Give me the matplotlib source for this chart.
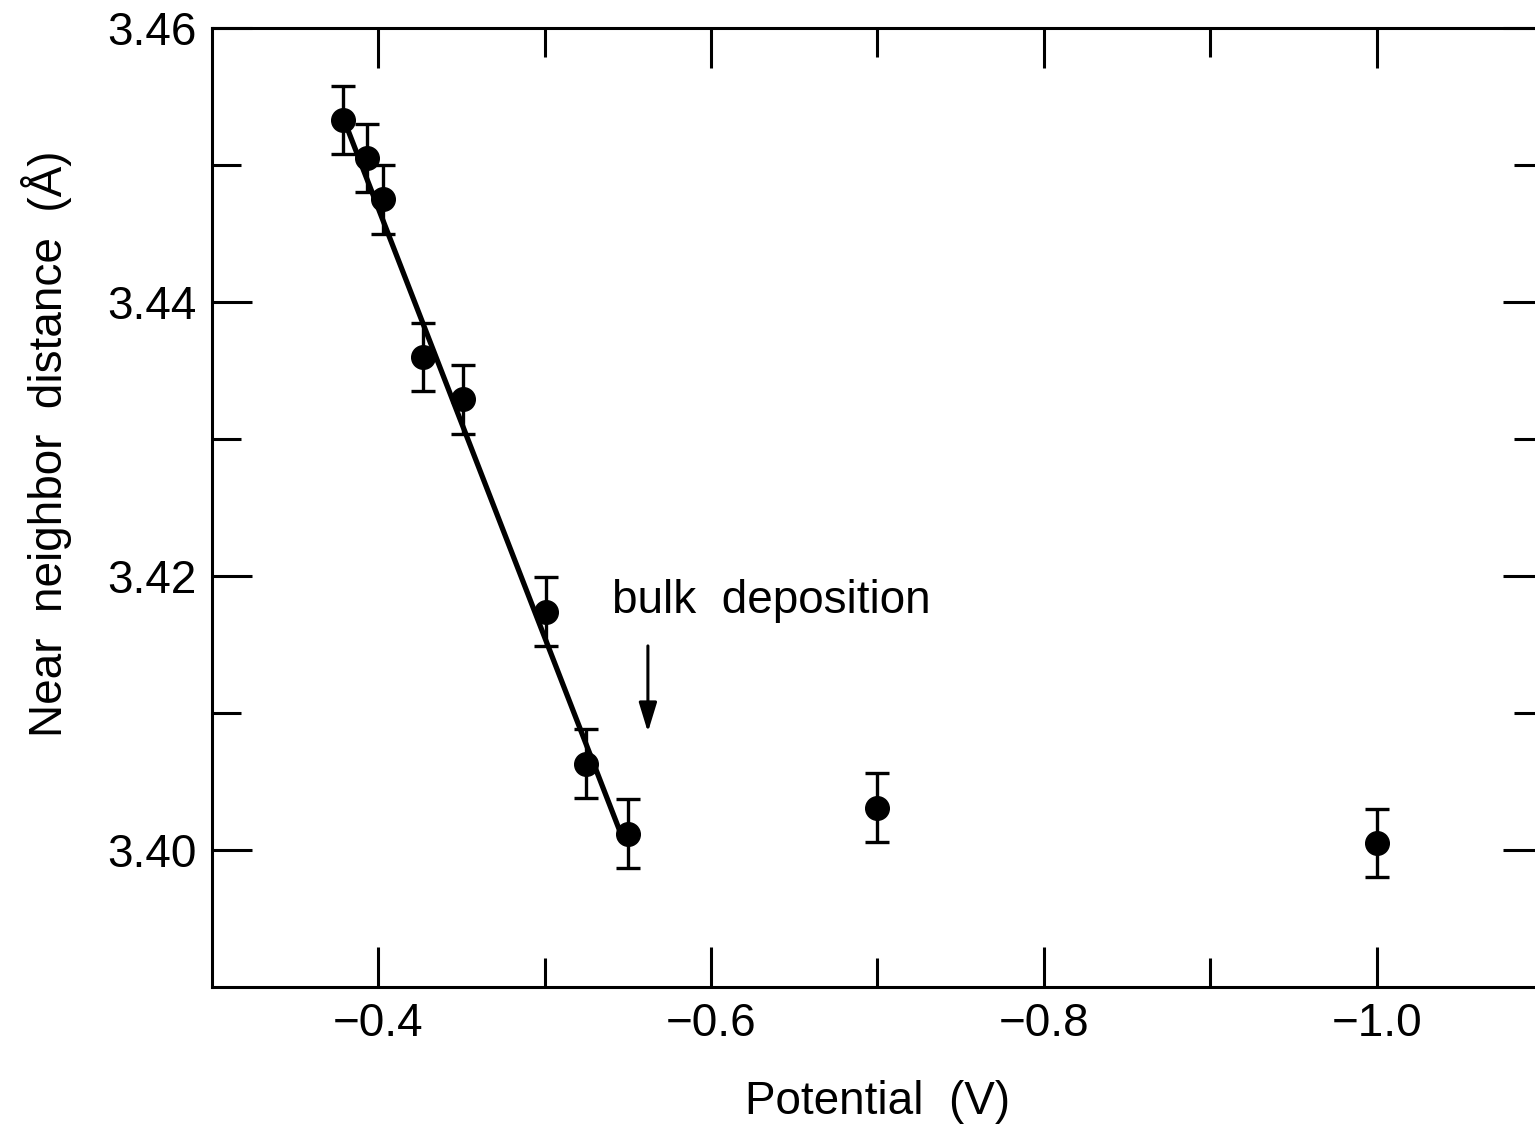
import numpy as np
import matplotlib
matplotlib.use("Agg")
import matplotlib.pyplot as plt

plt.rcParams['font.family'] = ['Liberation Sans', 'DejaVu Sans']

# data
potential = [-0.379, -0.393, -0.403, -0.427, -0.451, -0.501, -0.525, -0.550, -0.700, -1.000]
distance = [3.4533, 3.4505, 3.4475, 3.4360, 3.4329, 3.4174, 3.4063, 3.4012, 3.4031, 3.4005]
err = [0.0025, 0.0025, 0.0025, 0.0025, 0.0025, 0.0025, 0.0025, 0.0025, 0.0025, 0.0025]

# straight-line fit drawn through the low-potential points
fit_v = [-0.379, -0.5465]
fit_d = [3.4534, 3.40095]

x_major = [-0.4, -0.6, -0.8, -1.0]
x_minor = [-0.5, -0.7, -0.9]
x_labels = ['\u22120.4', '\u22120.6', '\u22120.8', '\u22121.0']
y_major = [3.40, 3.42, 3.44, 3.46]
y_minor = [3.41, 3.43, 3.45]
y_labels = ['3.40', '3.42', '3.44', '3.46']

fig = plt.figure(figsize=(15.35, 11.32), dpi=100)
ax = fig.add_axes([212/1535, 145/1132, 1331/1535, 959/1132])

ax.plot(fit_v, fit_d, color='black', lw=3.8, zorder=2)
ax.errorbar(potential, distance, yerr=err, fmt='o', color='black',
            markersize=17, elinewidth=2.4, capsize=8.5, capthick=2.4, zorder=3)

ax.set_xlim(-0.3, -1.1)
ax.set_ylim(3.39, 3.46)

ax.set_xticks(x_major)
ax.set_xticklabels(x_labels)
ax.set_xticks(x_minor, minor=True)
ax.set_yticks(y_major)
ax.set_yticklabels(y_labels)
ax.set_yticks(y_minor, minor=True)

ax.tick_params(which='both', direction='in', top=True, right=True, width=2.2,
               labelsize=33, pad=11)
ax.tick_params(which='major', length=29)
ax.tick_params(which='minor', length=21)
for s in ax.spines.values():
    s.set_linewidth(2.2)

ax.set_xlabel('Potential  (V)', fontsize=33, labelpad=24)
ax.set_ylabel('Near  neighbor  distance  (\u00c5)', fontsize=33)
ax.yaxis.set_label_coords(-0.105, 0.566)

ax.text(-0.5405, 3.4173, 'bulk  deposition', fontsize=33, ha='left', va='baseline')
ax.annotate('', xy=(-0.562, 3.4084), xytext=(-0.562, 3.4151),
            arrowprops=dict(arrowstyle='-|>,head_length=1.8,head_width=0.55',
                            color='black', lw=2.2))

fig.savefig('out.png', dpi=100)
